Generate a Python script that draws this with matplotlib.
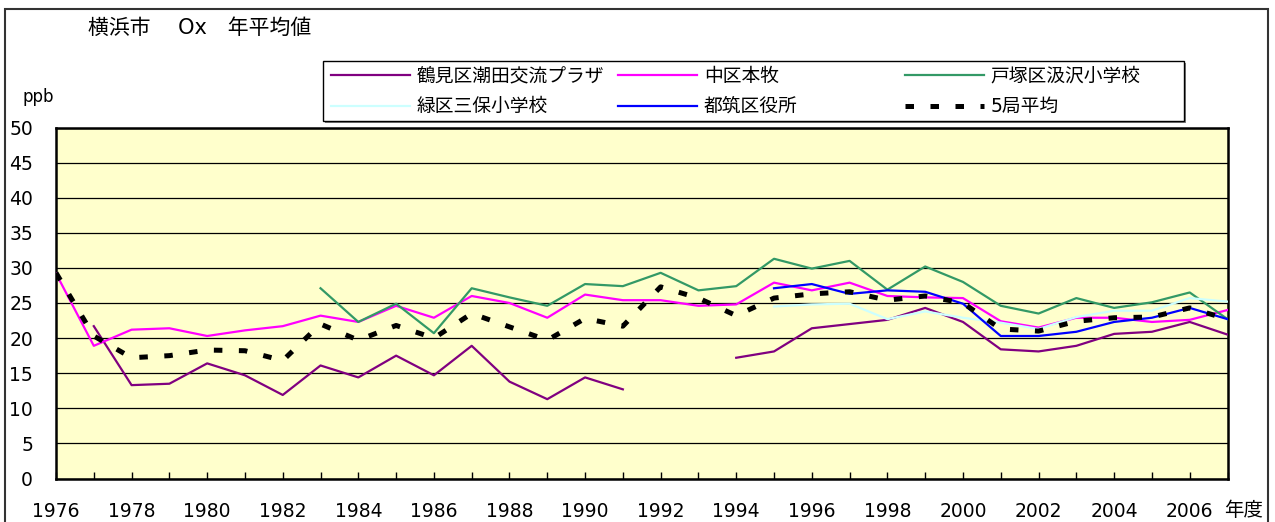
import numpy as np
import matplotlib
matplotlib.use("Agg")
import matplotlib.pyplot as plt
from matplotlib.patches import Rectangle

plt.rcParams['font.family'] = ['DejaVu Sans', 'Noto Sans CJK JP']

nan = np.nan
years = list(range(1976, 2008))

tsurumi = [nan, 21.7, 13.3, 13.5, 16.4, 14.7, 11.9, 16.1, 14.4, 17.5, 14.7, 18.9, 13.8, 11.3, 14.4, 12.7,
           nan, nan, 17.2, 18.1, 21.4, 22.0, 22.6, 24.3, 22.3, 18.4, 18.1, 18.9, 20.6, 20.9, 22.3, 20.5]
honmoku = [29.2, 18.9, 21.2, 21.4, 20.3, 21.1, 21.7, 23.2, 22.3, 24.6, 22.9, 26.0, 25.0, 22.9, 26.2, 25.4,
           25.4, 24.6, 24.8, 27.9, 26.8, 27.9, 26.0, 25.8, 25.7, 22.4, 21.5, 22.9, 22.9, 22.3, 22.6, 24.0]
totsuka = [nan, nan, nan, nan, nan, nan, nan, 27.1, 22.3, 24.9, 20.7, 27.1, 25.8, 24.6, 27.7, 27.4,
           29.3, 26.8, 27.4, 31.3, 29.9, 31.0, 26.9, 30.2, 28.0, 24.6, 23.5, 25.7, 24.3, 25.1, 26.5, 22.7]
midori = [nan, nan, nan, nan, nan, nan, nan, nan, nan, nan, nan, nan, nan, nan, nan, nan,
          nan, nan, nan, 24.5, 24.8, 24.9, 22.7, 23.8, 22.9, 22.2, 21.3, 23.0, 23.9, 23.9, 25.7, 25.2]
tsuzuki = [nan, nan, nan, nan, nan, nan, nan, nan, nan, nan, nan, nan, nan, nan, nan, nan,
           nan, nan, nan, 27.1, 27.7, 26.3, 26.8, 26.6, 24.9, 20.3, 20.3, 20.9, 22.3, 22.9, 24.3, 22.7]
average5 = [29.3, 20.3, 17.2, 17.5, 18.3, 18.2, 16.8, 22.0, 19.7, 21.8, 20.0, 23.5, 21.6, 19.7, 22.8, 21.7,
            27.3, 25.7, 23.2, 25.7, 26.3, 26.6, 25.4, 26.0, 25.0, 21.3, 21.0, 22.4, 22.9, 23.0, 24.3, 22.7]

names = ['鶴見区潮田交流プラザ', '中区本牧', '戸塚区汲沢小学校', '緑区三保小学校', '都筑区役所', '5局平均']
colors = ['#800080', '#FF00FF', '#339966', '#CCFFFF', '#0000FF', '#000000']

yticks = [0, 5, 10, 15, 20, 25, 30, 35, 40, 45, 50]
xlabel_years = list(range(1976, 2008, 2))

W, H = 1275, 522
fig = plt.figure(figsize=(W / 100, H / 100), dpi=100)

def fx(px):
    return px / W

def fy(py):
    return 1 - py / H

ax = fig.add_axes([fx(56), fy(478.5), (1227.5 - 56) / W, (478.5 - 127.5) / H])
ax.set_facecolor('#FFFFCC')

series = [tsurumi, honmoku, totsuka, midori, tsuzuki]
handles = []
for s, c, n in zip(series, colors[:5], names[:5]):
    h, = ax.plot(years, s, color=c, lw=1.6, label=n, zorder=3)
    handles.append(h)
h, = ax.plot(years, average5, color='black', lw=3.6, linestyle=(0, (1.7, 3.3)),
             dash_capstyle='butt', label=names[5], zorder=4)
handles.append(h)

ax.set_xlim(1976, 2007)
ax.set_ylim(0, 50)
ax.set_yticks(yticks)
ax.set_yticklabels([str(v) for v in yticks])
ax.yaxis.grid(True, color='black', lw=0.9)
ax.set_axisbelow(True)
ax.tick_params(axis='y', length=0, pad=16.5, labelsize=13.5)
ax.set_xticks(years)
ax.set_xticklabels([str(y) if y in xlabel_years else '' for y in years])
ax.tick_params(axis='x', direction='in', length=5, width=1, pad=17, labelsize=13.5)
for sp in ax.spines.values():
    sp.set_linewidth(1.8)
    sp.set_color('black')

# outer frame
fig.patches.append(Rectangle((fx(5), -0.05), (1268 - 5) / W, fy(9) + 0.05, transform=fig.transFigure,
                             fill=False, edgecolor='#333333', lw=1.5))

# texts
fig.text(fx(88), fy(28), '横浜市　 Ox　年平均値', ha='left', va='center', fontsize=15)
fig.text(fx(23), fy(97), 'ppb', ha='left', va='center', fontsize=12)
fig.text(fx(1244), fy(510), '年度', ha='center', va='center', fontsize=14)

# legend frame with shadow
fig.patches.append(Rectangle((fx(325), fy(123)), (1184 - 323) / W, (121 - 61) / H, transform=fig.transFigure,
                             facecolor='#808080', edgecolor='none', zorder=1))
fig.patches.append(Rectangle((fx(323), fy(121)), (1184 - 323) / W, (121 - 61) / H, transform=fig.transFigure,
                             facecolor='white', edgecolor='black', lw=1, zorder=2))

col_x = [331, 618, 905]
for i, cx in enumerate(col_x):
    hs = [handles[i], handles[i + 3]]
    leg = fig.legend(hs, [h.get_label() for h in hs], loc='upper left',
                     bbox_to_anchor=(fx(cx), fy(66.5)), bbox_transform=fig.transFigure,
                     frameon=False, borderpad=0, borderaxespad=0, fontsize=13.5,
                     handlelength=4.2, handletextpad=0.37, labelspacing=0.62)
    leg.set_zorder(5)

fig.savefig('out.png', dpi=100)
